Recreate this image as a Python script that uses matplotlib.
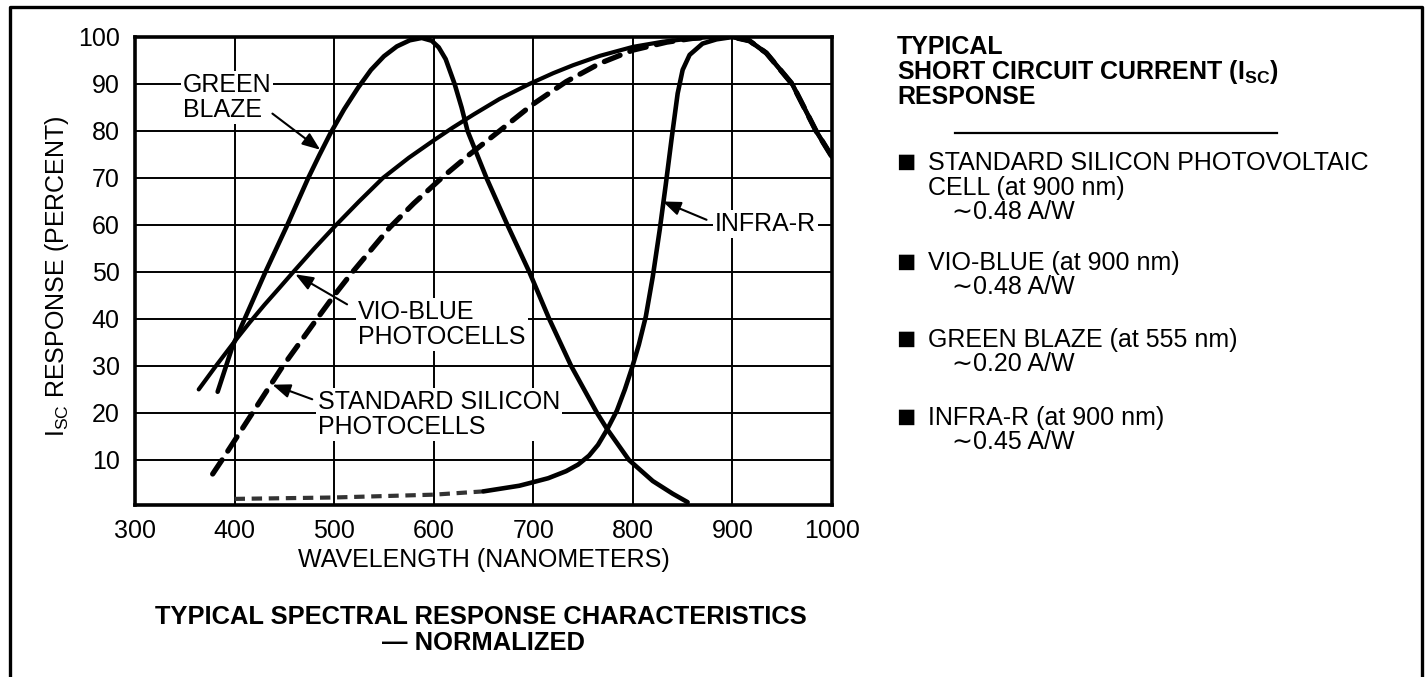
import matplotlib

matplotlib.use("Agg")
import matplotlib.pyplot as plt
from matplotlib.lines import Line2D

plt.rcParams["font.family"] = ["Liberation Sans", "DejaVu Sans"]
plt.rcParams["mathtext.fontset"] = "custom"
plt.rcParams["mathtext.rm"] = "Liberation Sans"
plt.rcParams["mathtext.bf"] = "Liberation Sans:bold"

# --- data: wavelength (nm) vs. normalized response (%) ---
green_x = [383, 398, 431, 453, 474, 485, 496, 510, 524, 537, 550, 563, 576,
           588, 598, 605, 612, 621, 628, 634, 653, 674, 696, 716, 738, 764,
           774, 796, 820, 840, 855]
green_y = [24.5, 34.2, 50, 60, 70, 74.8, 79.4, 84.6, 89.2, 93, 95.9, 98.0, 99.3,
           99.8, 99.2, 97.8, 95.3, 90, 85, 80, 70, 60, 50, 40, 30, 20,
           16.6, 10, 5.5, 2.8, 1]

vio_x = [364, 382, 400, 415, 430, 445, 459, 480, 502, 525, 549, 575, 600,
         619, 640, 666, 696, 720, 740, 767, 800, 830, 860, 880, 900, 917,
         934, 960, 984, 1000]
vio_y = [25, 30.2, 35.2, 39.2, 43.0, 46.6, 50, 55, 60, 65, 70, 74.3, 78,
         80.7, 83.5, 86.8, 90, 92.3, 94, 96, 97.9, 99, 99.7, 100, 100, 99.2,
         96.6, 90, 80, 74.5]

std_x = [378, 389, 418, 447, 481, 500, 517, 556, 580, 609, 636, 666, 699,
         733, 767, 800, 834, 860, 890, 900, 917, 934, 960, 984, 1000]
std_y = [7, 10.5, 20, 29.5, 39.5, 45, 49.6, 59.5, 64.6, 70.2, 75, 80, 85.6,
         90.5, 94.4, 97.2, 98.9, 99.7, 100, 100, 99.2, 96.6, 90, 80, 74.5]

infra_x = [400, 500, 600, 650, 686, 697, 715, 733, 745, 756, 765, 774, 784,
           792, 799, 806, 813, 820, 827, 833, 839, 845, 850, 857, 870, 884,
           900, 917, 934, 960, 984, 1000]
infra_y = [1.7, 2.0, 2.6, 3.3, 4.5, 5.1, 6.1, 7.6, 9.0, 10.9, 13.2, 16.4, 20.5,
           25, 29.5, 34.5, 40.5, 49, 59, 68.5, 78.5, 88, 93, 96.2, 98.6, 99.5,
           100, 99.2, 96.6, 90, 80, 74.5]

x_ticks = [300, 400, 500, 600, 700, 800, 900, 1000]
y_ticks = [10, 20, 30, 40, 50, 60, 70, 80, 90, 100]

heading = ["TYPICAL", "SHORT CIRCUIT CURRENT (I$_{\\mathbf{SC}}$)", "RESPONSE"]
items = [
    ["STANDARD SILICON PHOTOVOLTAIC", "CELL (at 900 nm)"],
    ["VIO-BLUE (at 900 nm)"],
    ["GREEN BLAZE (at 555 nm)"],
    ["INFRA-R (at 900 nm)"],
]
item_values = ["0.48 A/W", "0.48 A/W", "0.20 A/W", "0.45 A/W"]

W, H = 1427, 677
FS = 18


def fpos(x, y):
    """pixel position (from top-left) -> figure fraction"""
    return x / W, 1 - y / H


fig = plt.figure(figsize=(W / 100, H / 100), dpi=100)
fig.patch.set_facecolor("white")

ax = fig.add_axes([135 / W, 1 - 505 / H, (832 - 135) / W, (505 - 37) / H])
ax.set_xlim(300, 1000)
ax.set_ylim(0.4, 100)
ax.set_xticks(x_ticks)
ax.set_yticks(y_ticks)
ax.tick_params(length=0, labelsize=FS, pad=10)
ax.tick_params(axis="y", pad=11)
ax.set_axisbelow(True)
ax.grid(True, color="black", lw=1.4)
for sp in ax.spines.values():
    sp.set_linewidth(2.6)

curve = dict(color="black", solid_capstyle="round", dash_capstyle="round",
             solid_joinstyle="round", zorder=4)
ax.plot(green_x, green_y, lw=3.3, **curve)
ax.plot(vio_x, vio_y, lw=3.0, **curve)
ax.plot(std_x, std_y, lw=3.8, dashes=(3.2, 2.0), **curve)

# the far-red cell's long flat tail shows up broken in the print
n_tail = sum(1 for x in infra_x if x <= 650)
ax.plot(infra_x[:n_tail], infra_y[:n_tail], lw=3.0, dashes=(2.5, 1.6),
        color="#333333", zorder=4)
ax.plot(infra_x[n_tail - 1:], infra_y[n_tail - 1:], lw=3.3, **curve)

ax.set_xlabel("WAVELENGTH (NANOMETERS)", fontsize=FS)
ax.xaxis.set_label_coords(0.5, -0.1175)
ax.xaxis.label.set_va("center")
ax.set_ylabel("I$_{\\mathrm{SC}}$ RESPONSE (PERCENT)", fontsize=FS)
ax.yaxis.set_label_coords(-0.112, 0.49)
ax.yaxis.label.set_va("center")

box = dict(facecolor="white", edgecolor="none", pad=1.5)
arrow = dict(arrowstyle="-|>,head_length=0.9,head_width=0.35", lw=1.5,
             color="black", shrinkA=0, shrinkB=0, mutation_scale=12)

labels = [
    ("GREEN\nBLAZE", (348, 87.2), (438, 83.7), (486, 76.0)),
    ("VIO-BLUE\nPHOTOCELLS", (524, 38.9), (513, 43.1), (461, 49.5)),
    ("STANDARD SILICON\nPHOTOCELLS", (483.5, 19.7), (478, 22.9), (438, 26.0)),
    ("INFRA-R", (882, 60.3), (874, 61.1), (830, 65.0)),
]
for txt, pos, tail, head in labels:
    ax.text(pos[0], pos[1], txt, fontsize=FS, ha="left", va="center",
            linespacing=1.05, bbox=box, zorder=3)
    ax.annotate("", xy=head, xytext=tail, arrowprops=arrow, zorder=5)

# caption under the plot
fig.text(*fpos(481, 617), "TYPICAL SPECTRAL RESPONSE CHARACTERISTICS",
         fontsize=18.4, fontweight="bold", ha="center", va="center")
fig.text(*fpos(483, 643), "\u2014 NORMALIZED",
         fontsize=18.4, fontweight="bold", ha="center", va="center")

# right-hand panel
fig.text(*fpos(897, 35), "\n".join(heading), fontsize=FS, fontweight="bold",
         ha="left", va="top", linespacing=0.95)
fig.add_artist(Line2D([955 / W, 1277 / W], [1 - 133 / H] * 2,
                      transform=fig.transFigure, color="black", lw=1.6))

item_tops = [163, 263, 340, 418]
for lines, value, y0 in zip(items, item_values, item_tops):
    fig.text(*fpos(896, y0 + 1), "\u25a0", fontsize=23, ha="left", va="center")
    y = y0
    for line in lines:
        fig.text(*fpos(928, y), line, fontsize=FS, ha="left", va="center")
        y += 25
    fig.text(*fpos(952, y - 1), "\u223c" + value, fontsize=FS,
             ha="left", va="center")

# outer frame (open at the bottom where the scan is cut)
fig.add_artist(Line2D([10 / W, 10 / W, 1422 / W, 1422 / W],
                      [0, 1 - 7 / H, 1 - 7 / H, 0],
                      transform=fig.transFigure, color="black", lw=2.4))

fig.savefig("out.png", dpi=100)
